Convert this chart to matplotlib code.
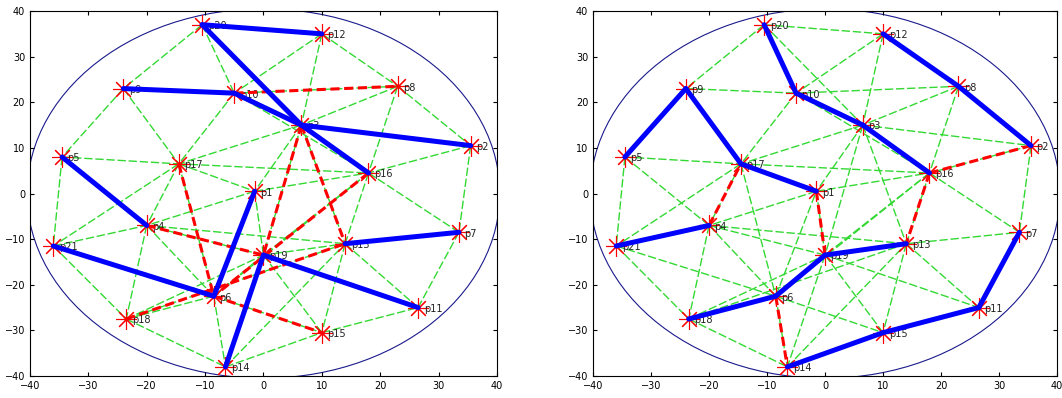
import numpy as np
import matplotlib.pyplot as plt

# node names and coordinates
names = ['p1', 'p2', 'p3', 'p4', 'p5', 'p6', 'p7', 'p8', 'p9', 'p10', 'p11',
         'p12', 'p13', 'p14', 'p15', 'p16', 'p17', 'p18', 'p19', 'p20', 'p21']
px = [-1.5, 35.5, 6.5, -20, -34.5, -8.5, 33.5, 23, -24, -5, 26.5,
      10, 14, -6.5, 10, 18, -14.5, -23.5, 0, -10.5, -36]
py = [0.5, 10.5, 15, -7, 8, -22.5, -8.5, 23.5, 23, 22, -25,
      35, -11, -38, -30.5, 4.5, 6.5, -27.5, -13.5, 37, -11.5]

# graph edges (green)
green_edges = [('p20', 'p12'), ('p20', 'p9'), ('p20', 'p10'), ('p20', 'p3'),
               ('p12', 'p10'), ('p12', 'p3'), ('p12', 'p8'), ('p9', 'p10'),
               ('p9', 'p5'), ('p9', 'p17'), ('p10', 'p8'), ('p10', 'p17'),
               ('p10', 'p3'), ('p8', 'p3'), ('p8', 'p2'), ('p8', 'p16'),
               ('p3', 'p2'), ('p3', 'p16'), ('p3', 'p1'), ('p3', 'p17'),
               ('p2', 'p16'), ('p2', 'p7'), ('p5', 'p17'), ('p5', 'p21'),
               ('p5', 'p4'), ('p17', 'p1'), ('p17', 'p21'), ('p17', 'p4'),
               ('p1', 'p16'), ('p1', 'p19'), ('p1', 'p4'), ('p16', 'p13'),
               ('p16', 'p7'), ('p16', 'p19'), ('p21', 'p4'), ('p21', 'p18'),
               ('p21', 'p6'), ('p4', 'p18'), ('p4', 'p6'), ('p4', 'p19'),
               ('p19', 'p6'), ('p19', 'p13'), ('p19', 'p14'), ('p19', 'p15'),
               ('p19', 'p11'), ('p13', 'p7'), ('p13', 'p11'), ('p13', 'p15'),
               ('p7', 'p11'), ('p6', 'p18'), ('p6', 'p14'), ('p6', 'p15'),
               ('p18', 'p14'), ('p14', 'p15'), ('p15', 'p11'), ('p6', 'p1'),
               ('p17', 'p6'), ('p3', 'p19'), ('p3', 'p13'), ('p18', 'p13'),
               ('p16', 'p6'), ('p17', 'p16'), ('p4', 'p13'), ('p14', 'p13'),
               ('p18', 'p19'), ('p10', 'p16')]

# left result
left_blue = [('p20', 'p12'), ('p9', 'p10'), ('p10', 'p3'), ('p20', 'p3'),
             ('p3', 'p16'), ('p3', 'p2'), ('p5', 'p4'), ('p21', 'p6'),
             ('p6', 'p1'), ('p19', 'p14'), ('p19', 'p11'), ('p13', 'p7')]
left_red = [('p10', 'p8'), ('p3', 'p19'), ('p3', 'p13'), ('p16', 'p6'),
            ('p17', 'p6'), ('p4', 'p19'), ('p18', 'p13'), ('p6', 'p15')]

# right result
right_blue = [('p5', 'p9'), ('p9', 'p17'), ('p17', 'p1'), ('p20', 'p10'),
              ('p10', 'p3'), ('p3', 'p16'), ('p12', 'p8'), ('p8', 'p2'),
              ('p21', 'p4'), ('p18', 'p6'), ('p6', 'p19'), ('p19', 'p13'),
              ('p14', 'p15'), ('p15', 'p11'), ('p11', 'p7')]
right_red = [('p16', 'p2'), ('p16', 'p13'), ('p1', 'p19'), ('p6', 'p14'),
             ('p4', 'p17')]

idx = {n: i for i, n in enumerate(names)}
ticks = [-40, -30, -20, -10, 0, 10, 20, 30, 40]


def seg(a, b):
    i, j = idx[a], idx[b]
    return [px[i], px[j]], [py[i], py[j]]


def draw(ax, blue, red):
    for a, b in green_edges:
        x, y = seg(a, b)
        ax.plot(x, y, color=(0.2, 0.85, 0.2), lw=1.0, dashes=(6, 2), zorder=1)
    t = np.linspace(0, 2 * np.pi, 120)
    ax.plot(40.5 * np.cos(t), 40.5 * np.sin(t), color='#1a1a8c', lw=0.8, zorder=1)
    ax.plot(px, py, ls='none', marker=(8, 2, 0), ms=15, mec='r', mew=0.8, zorder=2)
    for n, x, y in zip(names, px, py):
        ax.annotate(n, (x, y), xytext=(4, -1), textcoords='offset points',
                    fontsize=7, color='#222222', va='center', zorder=2)
    for a, b in red:
        x, y = seg(a, b)
        ax.plot(x, y, color='r', lw=2.2, dashes=(3, 1.5), zorder=3)
    for a, b in blue:
        x, y = seg(a, b)
        ax.plot(x, y, color='b', lw=3.6, solid_capstyle='round', zorder=4)
    ax.set_xlim(-40, 40)
    ax.set_ylim(-40, 40)
    ax.set_xticks(ticks)
    ax.set_yticks(ticks)
    ax.tick_params(direction='in', top=True, right=True, labelsize=7, length=3)


fig = plt.figure(figsize=(10.62, 3.98), dpi=100)
ax1 = fig.add_axes([0.0282, 0.0553, 0.4397, 0.917])
ax2 = fig.add_axes([0.5584, 0.0553, 0.4370, 0.917])
draw(ax1, left_blue, left_red)
draw(ax2, right_blue, right_red)
fig.savefig('out.png', dpi=100)
